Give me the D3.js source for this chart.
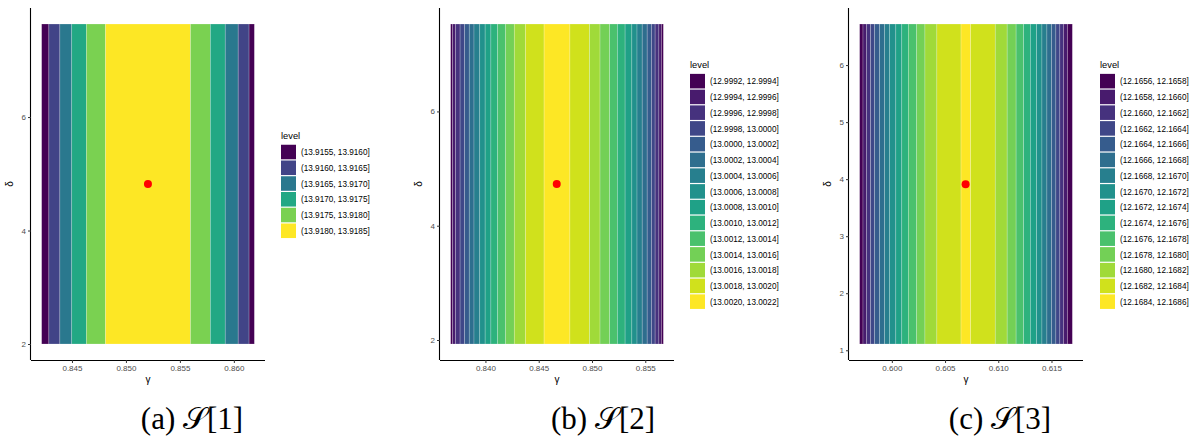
<!DOCTYPE html>
<html>
<head>
<meta charset="utf-8">
<script src="https://cdn.jsdelivr.net/npm/d3@7"></script>
<style>
  body { margin: 0; background: #fff; }
  svg { display: block; }
</style>
</head>
<body>
<div id="chart"></div>
<script>
// level labels (legend) for each panel
const levelsA = ["(13.9155, 13.9160]", "(13.9160, 13.9165]", "(13.9165, 13.9170]",
  "(13.9170, 13.9175]", "(13.9175, 13.9180]", "(13.9180, 13.9185]"];
const levelsB = ["(12.9992, 12.9994]", "(12.9994, 12.9996]", "(12.9996, 12.9998]", "(12.9998, 13.0000]",
  "(13.0000, 13.0002]", "(13.0002, 13.0004]", "(13.0004, 13.0006]", "(13.0006, 13.0008]",
  "(13.0008, 13.0010]", "(13.0010, 13.0012]", "(13.0012, 13.0014]", "(13.0014, 13.0016]",
  "(13.0016, 13.0018]", "(13.0018, 13.0020]", "(13.0020, 13.0022]"];
const levelsC = ["(12.1656, 12.1658]", "(12.1658, 12.1660]", "(12.1660, 12.1662]", "(12.1662, 12.1664]",
  "(12.1664, 12.1666]", "(12.1666, 12.1668]", "(12.1668, 12.1670]", "(12.1670, 12.1672]",
  "(12.1672, 12.1674]", "(12.1674, 12.1676]", "(12.1676, 12.1678]", "(12.1678, 12.1680]",
  "(12.1680, 12.1682]", "(12.1682, 12.1684]", "(12.1684, 12.1686]"];

// gamma edges of the filled contour bands and the level of each band
const edgesA = [0.84219, 0.84286, 0.84388, 0.84498, 0.84634, 0.84811, 0.85598,
  0.85782, 0.85920, 0.86040, 0.86141, 0.86190];
const bandLevelA = [0, 1, 2, 3, 4, 5, 4, 3, 2, 1, 0];

const edgesB = [0.836735, 0.836922, 0.837202, 0.837621, 0.838041, 0.838480, 0.838927, 0.839468,
  0.839972, 0.840513, 0.841147, 0.841894, 0.842705, 0.843759, 0.845504, 0.847929, 0.849766,
  0.850755, 0.851660, 0.852378, 0.853106, 0.853740, 0.854225, 0.854710, 0.855177, 0.855578,
  0.855923, 0.856277, 0.856511, 0.856697];
const bandLevelB = [0, 1, 2, 3, 4, 5, 6, 7, 8, 9, 10, 11, 12, 13, 14, 13, 12, 11, 10, 9, 8, 7, 6, 5, 4, 3, 2, 1, 0];

const edgesC = [0.596974, 0.597291, 0.597628, 0.598001, 0.598375, 0.598842, 0.599309, 0.599776,
  0.600374, 0.600934, 0.601550, 0.602335, 0.603110, 0.604231, 0.606501, 0.607407, 0.609714,
  0.610834, 0.611675, 0.612385, 0.613011, 0.613599, 0.614103, 0.614570, 0.615000, 0.615411,
  0.615785, 0.616121, 0.616494, 0.616961];
const bandLevelC = [0, 1, 2, 3, 4, 5, 6, 7, 8, 9, 10, 11, 12, 13, 14, 13, 12, 11, 10, 9, 8, 7, 6, 5, 4, 3, 2, 1, 0];

// delta extent of the grid
const deltaA = [2.0, 7.64];
const deltaB = [1.93, 7.53];
const deltaC = [1.11, 6.72];

// optimum (red point): [gamma, delta]
const optA = [0.85204, 4.82];
const optB = [0.84669, 4.73];
const optC = [0.60693, 3.91];

// tick values
const xTicksA = [0.845, 0.850, 0.855, 0.860];
const xTicksB = [0.840, 0.845, 0.850, 0.855];
const xTicksC = [0.600, 0.605, 0.610, 0.615];
const yTicksA = [2, 4, 6];
const yTicksB = [2, 4, 6];
const yTicksC = [1, 2, 3, 4, 5, 6];

const captions = ["(a) ", "(b) ", "(c) "];
const captionIdx = ["[1]", "[2]", "[3]"];

const W = 1190, H = 437;
const svg = d3.select("#chart").append("svg")
  .attr("width", W).attr("height", H)
  .style("font-family", "'Liberation Sans', Arial, sans-serif");

const panels = [
  {edges: edgesA, band: bandLevelA, levels: levelsA, delta: deltaA, opt: optA, xt: xTicksA, yt: yTicksA,
   left: 31, legX: 281, capX: 192},
  {edges: edgesB, band: bandLevelB, levels: levelsB, delta: deltaB, opt: optB, xt: xTicksB, yt: yTicksB,
   left: 440, legX: 690, capX: 603},
  {edges: edgesC, band: bandLevelC, levels: levelsC, delta: deltaC, opt: optC, xt: xTicksC, yt: yTicksC,
   left: 849, legX: 1100, capX: 1000}
];

const panelTop = 8, panelBottom = 360, pw = 234;

function expand(ext) {
  const e = (ext[1] - ext[0]) * 0.05;
  return [ext[0] - e, ext[1] + e];
}

panels.forEach((p, k) => {
  const n = p.levels.length;
  const color = i => d3.interpolateViridis(n === 1 ? 0 : i / (n - 1));
  const gx = d3.extent(p.edges);
  const x = d3.scaleLinear().domain(expand(gx)).range([p.left, p.left + pw]);
  const y = d3.scaleLinear().domain(expand(p.delta)).range([panelBottom, panelTop]);

  const g = svg.append("g");

  // bands
  const bands = p.band.map((lv, i) => ({x0: p.edges[i], x1: p.edges[i + 1], lv}));
  g.append("g").selectAll("rect")
    .data(bands)
    .join("rect")
    .attr("x", d => x(d.x0))
    .attr("width", d => x(d.x1) - x(d.x0))
    .attr("y", y(p.delta[1]))
    .attr("height", y(p.delta[0]) - y(p.delta[1]))
    .attr("fill", d => color(d.lv))
    .attr("stroke", "rgba(255,255,255,0.35)")
    .attr("stroke-width", 0.6);

  // optimum point
  g.append("circle")
    .attr("cx", x(p.opt[0])).attr("cy", y(p.opt[1]))
    .attr("r", 4).attr("fill", "#ff0000");

  // axes
  const ax = g.append("g").attr("transform", `translate(0,${panelBottom})`)
    .call(d3.axisBottom(x).tickValues(p.xt).tickFormat(d3.format(".3f")).tickSize(3).tickPadding(2));
  ax.select(".domain").attr("d", `M${p.left},0.5H${p.left + pw}`).attr("stroke", "#000").attr("stroke-width", 1.1);
  ax.selectAll(".tick line").attr("stroke", "#333");
  ax.selectAll(".tick text").attr("fill", "#4d4d4d").style("font-size", "8px");

  const ay = g.append("g").attr("transform", `translate(${p.left},0)`)
    .call(d3.axisLeft(y).tickValues(p.yt).tickFormat(d3.format("d")).tickSize(3).tickPadding(2));
  ay.select(".domain").attr("d", `M-0.5,${panelTop}V${panelBottom}`).attr("stroke", "#000").attr("stroke-width", 1.1);
  ay.selectAll(".tick line").attr("stroke", "#333");
  ay.selectAll(".tick text").attr("fill", "#4d4d4d").style("font-size", "8px");

  // axis titles
  g.append("text")
    .attr("x", p.left + pw / 2).attr("y", 383)
    .attr("text-anchor", "middle").style("font-size", "10px").attr("fill", "#000")
    .text("γ");
  g.append("text")
    .attr("transform", `translate(${p.left - 18},${(panelTop + panelBottom) / 2}) rotate(-90)`)
    .attr("text-anchor", "middle").style("font-size", "10px").attr("fill", "#000")
    .text("δ");

  // legend
  const pitch = 15.75;
  const legH = 14 + n * pitch;
  const ly = (panelTop + panelBottom) / 2 - legH / 2 + 1;
  const leg = g.append("g").attr("transform", `translate(${p.legX},${ly})`);
  leg.append("text").attr("x", 0).attr("y", 8.5).style("font-size", "9.3px").attr("fill", "#000").text("level");
  const items = leg.selectAll("g.item")
    .data(p.levels)
    .join("g")
    .attr("class", "item")
    .attr("transform", (d, i) => `translate(0,${14 + i * pitch})`);
  items.append("rect")
    .attr("width", 15).attr("height", pitch - 1.2)
    .attr("fill", (d, i) => color(i));
  items.append("text")
    .attr("x", 20).attr("y", pitch / 2 + 2.5)
    .style("font-size", "8.2px").attr("fill", "#000")
    .text(d => d);

  // caption
  const cap = svg.append("text")
    .attr("x", p.capX).attr("y", 429)
    .attr("text-anchor", "middle")
    .style("font-family", "'Liberation Serif', 'Times New Roman', serif")
    .style("font-size", "31px").attr("fill", "#000");
  cap.append("tspan").text(captions[k]);
  cap.append("tspan").text("𝒮");
  cap.append("tspan").text(captionIdx[k]);
});
</script>
</body>
</html>
